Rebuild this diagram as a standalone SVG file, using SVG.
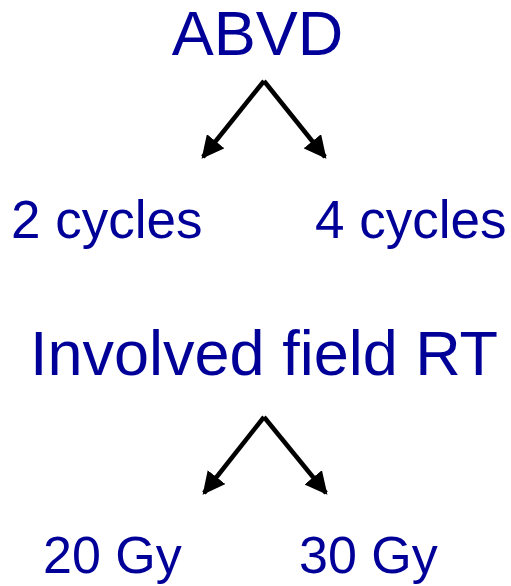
<svg xmlns="http://www.w3.org/2000/svg" width="511" height="586" viewBox="0 0 511 586">
<style>
text{font-family:"Liberation Sans",Arial,sans-serif;fill:#000099}
.big{font-size:63px}
.mid{font-size:53px}
.sm{font-size:52px}
.c{stroke:#000;stroke-width:4.5;fill:none;marker-end:url(#ah)}
</style>
<defs>
<marker id="ah" viewBox="0 0 10 10" refX="9" refY="5" markerWidth="5" markerHeight="5" markerUnits="strokeWidth" orient="auto">
<path d="M0,0 L10,5 L0,10 Z" fill="#000"/>
</marker>
</defs>
<rect width="511" height="586" fill="#fff"/>
<g id="connectors">
<path class="c" d="M264,81 L203,157"/>
<path class="c" d="M264,81 L325,157"/>
<path class="c" d="M264,417 L204,493"/>
<path class="c" d="M264,417 L326,493"/>
</g>
<g id="abvd"><text class="big" x="257.5" y="55" text-anchor="middle">ABVD</text></g>
<g id="cycles2"><text class="mid" x="11" y="238">2 cycles</text></g>
<g id="cycles4"><text class="mid" x="315" y="238">4 cycles</text></g>
<g id="ifrt"><text class="big" x="30" y="375">Involved field RT</text></g>
<g id="gy20"><text class="sm" x="43" y="573">20 Gy</text></g>
<g id="gy30"><text class="sm" x="299" y="573">30 Gy</text></g>
</svg>
